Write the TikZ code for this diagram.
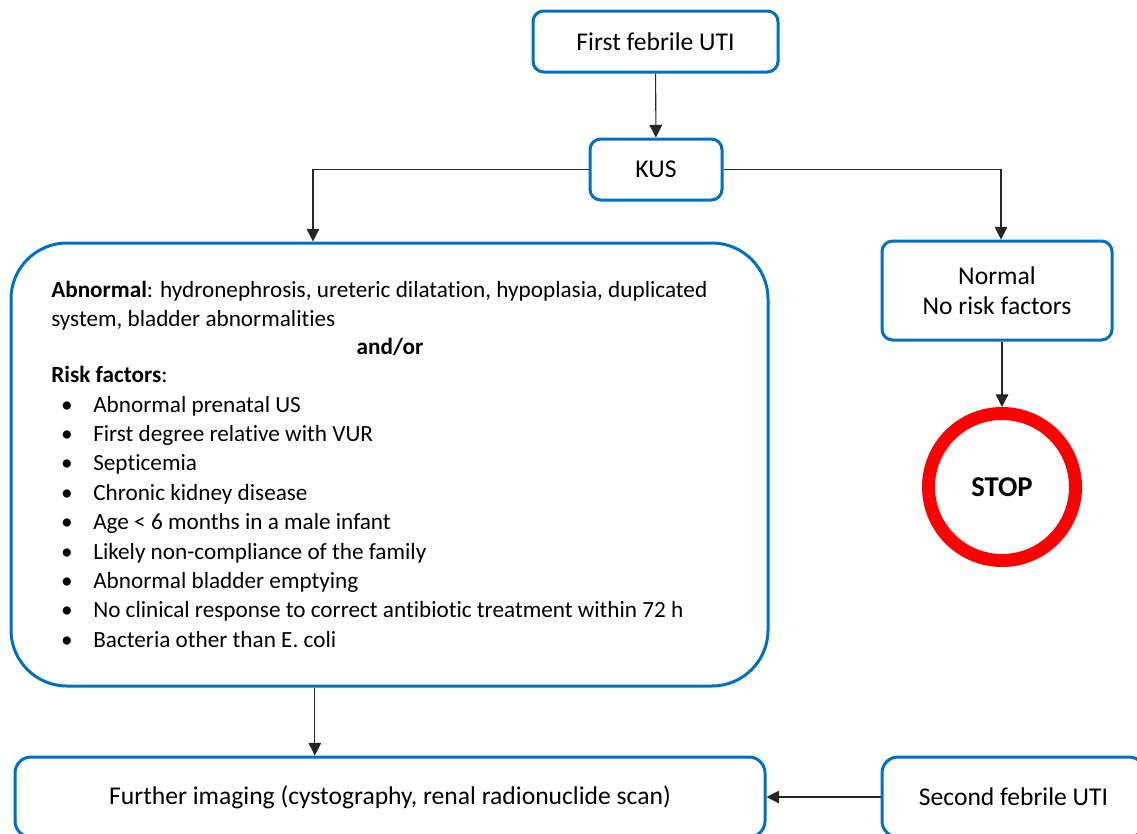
\documentclass[tikz,border=0pt]{standalone}
\usepackage{fontspec}
\setmainfont{Carlito}[Ligatures=NoCommon]
\usetikzlibrary{arrows.meta,shapes.geometric}
\definecolor{boxblue}{RGB}{0,112,192}
\definecolor{stopred}{RGB}{255,0,0}
\begin{document}
\begin{tikzpicture}[x=0.75pt,y=-0.75pt,
  box/.style={draw=boxblue, line width=2.25pt, rounded corners=8pt, fill=white,
    inner sep=0pt, font=\fontsize{19.2}{22.5}\selectfont, align=center},
  conn/.style={draw=black!85, line width=0.8pt, -{Triangle[width=9.5pt,length=9.5pt]}},
  txt/.style={font=\fontsize{17.4}{21}\selectfont, inner sep=0pt, anchor=mid west},
  bul/.style={font=\fontsize{17.4}{21}\selectfont, inner sep=0pt, anchor=mid},
]
\useasboundingbox (0,0) rectangle (1137,833);

% boxes
\node[box, minimum width=183.75pt, minimum height=45.75pt] (first) at (655.5,41.5) {First febrile UTI};
\node[box, minimum width=99pt, minimum height=45.75pt] (kus) at (656,169.5) {KUS};
\node[box, rounded corners=42pt, minimum width=567.75pt, minimum height=332.25pt] (abn) at (389.5,464.5) {};
\node[box, minimum width=172.5pt, minimum height=74.25pt] (norm) at (997,290.5) {Normal\\No risk factors};
\node[circle, draw=stopred, line width=9.75pt, minimum size=110.25pt, inner sep=0pt,
  font=\fontsize{21.5}{24}\selectfont\bfseries] (stop) at (1002,487) {STOP};
\node[box, rounded corners=12pt, minimum width=562.5pt, minimum height=60pt] (further) at (390,797)
  {Further imaging (cystography, renal radionuclide scan)};
\node[box, rounded corners=12pt, minimum width=197.25pt, minimum height=60pt] (second) at (1013.5,797)
  {Second febrile UTI};

% contents of the large box
\node[txt] (l1) at (51,294) {\textbf{Abnormal}: hydronephrosis, ureteric dilatation, hypoplasia, duplicated};
\node[txt] (l2) at (51,323) {system, bladder abnormalities};
\node[bul, font=\fontsize{17.4}{21}\selectfont\bfseries] (l3) at (390,351) {and/or};
\node[txt] (l4) at (51,379) {\textbf{Risk factors}:};
\foreach \y/\t [count=\i] in {409/Abnormal prenatal US,
    438/First degree relative with VUR,
    467/Septicemia,
    497/Chronic kidney disease,
    526/Age < 6 months in a male infant,
    556/Likely non-compliance of the family,
    585/Abnormal bladder emptying,
    614/No clinical response to correct antibiotic treatment within 72 h,
    644/Bacteria other than E. coli}{
  \node[bul] (b\i) at (67,\y) {•};
  \node[txt] (r\i) at (93,\y) {\t};
}

% connectors
\draw[conn] (first) -- (kus);
\draw[conn] (kus.west) -| ([xshift=-57.4pt]abn.north);
\draw[conn] (kus.east) -| ([xshift=3pt]norm.north);
\draw[conn] (norm.south -| stop.north) -- (stop.north);
\coordinate (downx) at ([xshift=-56pt]abn.south);
\draw[conn] (downx) -- (downx |- further.north);
\draw[conn] (second.west) -- (further.east);
\end{tikzpicture}
\end{document}
